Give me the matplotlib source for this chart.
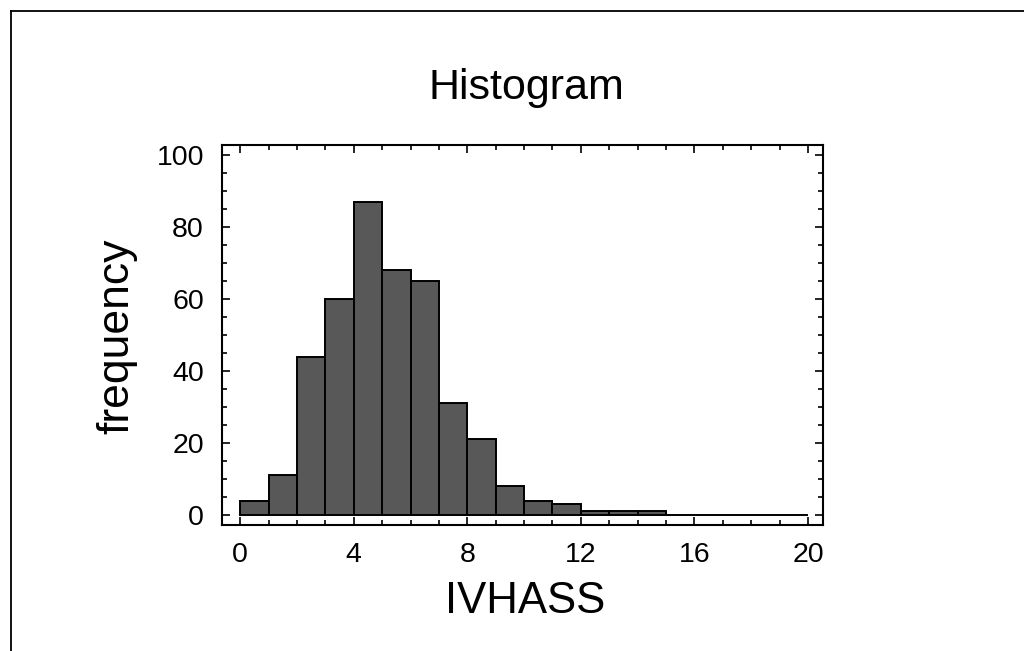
import matplotlib
matplotlib.use("Agg")
import matplotlib.pyplot as plt
from matplotlib.ticker import MultipleLocator
from matplotlib.lines import Line2D

# ---- data ----
bin_left = list(range(0, 20))
counts = [4, 11, 44, 60, 87, 68, 65, 31, 21, 8, 4, 3, 1, 1, 1, 0, 0, 0, 0, 0]
bin_width = 1
x_ticks = [0, 4, 8, 12, 16, 20]
y_ticks = [0, 20, 40, 60, 80, 100]
title = "Histogram"
xlabel = "IVHASS"
ylabel = "frequency"

plt.rcParams['font.family'] = ['Liberation Sans', 'DejaVu Sans']

fig = plt.figure(figsize=(10.24, 6.51), dpi=100)
fig.patch.set_facecolor('white')

W, H = 1024, 651
ax = fig.add_axes([222 / W, 1 - 525 / H, (823 - 222) / W, (525 - 145) / H])

ax.bar(bin_left, counts, width=bin_width, align='edge',
       facecolor='#585858', edgecolor='black', linewidth=1.4)

ax.set_xlim(-0.64, 20.53)
ax.set_ylim(-2.8, 102.8)
ax.set_xticks(x_ticks)
ax.set_yticks(y_ticks)
ax.xaxis.set_minor_locator(MultipleLocator(1))
ax.yaxis.set_minor_locator(MultipleLocator(5))
ax.tick_params(which='both', direction='in', top=True, right=True,
               width=1.2, colors='black')
ax.tick_params(which='major', length=6)
ax.tick_params(which='minor', length=3.5)
ax.tick_params(axis='x', which='major', labelsize=20.5, pad=12)
ax.tick_params(axis='y', which='major', labelsize=20.5, pad=13)
for s in ax.spines.values():
    s.set_linewidth(1.5)

fig.text(526 / W, 1 - 99 / H, title, fontsize=31, ha='center', va='baseline')
fig.text(525 / W, 1 - 613 / H, xlabel, fontsize=31.5, ha='center', va='baseline')
fig.text(128 / W, 1 - 336 / H, ylabel, fontsize=32, ha='center', va='baseline',
         rotation=90, rotation_mode='anchor')

# outer frame of the figure
fig.add_artist(Line2D([11 / W, 1], [1 - 11 / H, 1 - 11 / H], color='black',
                      linewidth=1.3, transform=fig.transFigure))
fig.add_artist(Line2D([11 / W, 11 / W], [0, 1 - 11 / H], color='black',
                      linewidth=1.3, transform=fig.transFigure))

fig.savefig('out.png', dpi=100)
